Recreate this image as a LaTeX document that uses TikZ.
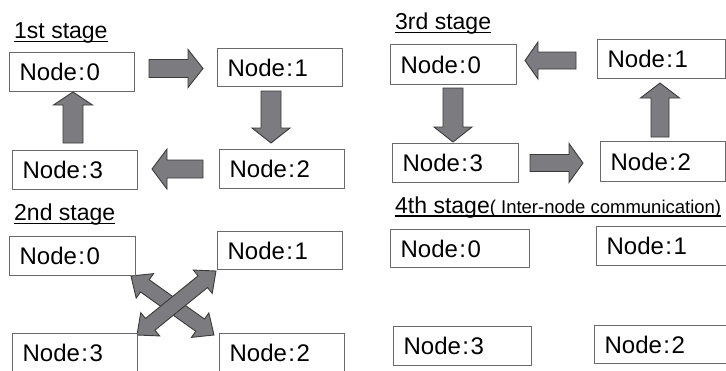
\documentclass[tikz,border=0pt]{standalone}
\usepackage{fontspec}
\setmainfont{Liberation Sans}
\usetikzlibrary{calc}
\definecolor{boxline}{HTML}{6A6A6A}
\definecolor{arrfill}{HTML}{7C7C80}
\definecolor{arrline}{HTML}{3A3A3A}
\tikzset{
  nbox/.style={draw=boxline, line width=1.2pt, fill=white, anchor=north west,
    inner xsep=10pt, inner ysep=0pt, minimum height=39pt, align=left,
    text height=17pt, text depth=0pt, font=\fontsize{24}{26}\selectfont},
  stitle/.style={anchor=base west, inner sep=0pt, font=\fontsize{23}{25}\selectfont},
  uline/.style={line width=1.4pt, black},
  fatarrow/.style={fill=arrfill, draw=arrline, line width=0.9pt, line join=miter}
}
\newcommand\nodetxt[1]{Node\kern1.5pt:\kern1.5pt#1}
\newcommand\fatarr[5]{%
  \coordinate (hb) at ($(#2)!#5pt!(#1)$);
  \draw[fatarrow] ($(#1)!#3pt!90:(#2)$) -- ($(hb)!#3pt!90:(#2)$) -- ($(hb)!#4pt!90:(#2)$) -- (#2)
    -- ($(hb)!#4pt!-90:(#2)$) -- ($(hb)!#3pt!-90:(#2)$) -- ($(#1)!#3pt!-90:(#2)$) -- cycle;}
\newcommand\fatdbl[5]{%
  \coordinate (hba) at ($(#1)!#5pt!(#2)$);
  \coordinate (hbb) at ($(#2)!#5pt!(#1)$);
  \draw[fatarrow] (#1) -- ($(hba)!#4pt!90:(#2)$) -- ($(hba)!#3pt!90:(#2)$) -- ($(hbb)!#3pt!-90:(#1)$)
    -- ($(hbb)!#4pt!-90:(#1)$) -- (#2) -- ($(hbb)!#4pt!90:(#1)$) -- ($(hbb)!#3pt!90:(#1)$)
    -- ($(hba)!#3pt!-90:(#2)$) -- ($(hba)!#4pt!-90:(#2)$) -- cycle;}
\begin{document}
\begin{tikzpicture}[x=1pt, y=-1pt]
\useasboundingbox (0,0) rectangle (726,370);
\clip (0,0) rectangle (726,370);
\fill[white] (0,0) rectangle (726,370);

% ---------- 1st stage ----------
\node[stitle] (t1) at (14,38) {1st stage};
\draw[uline] ([yshift=-3.2pt]t1.base west) -- ([yshift=-3.2pt]t1.base east);
\node[nbox, text width=105pt] (s1n0) at (9,52) {\nodetxt{0}};
\node[nbox, text width=105pt, minimum height=38pt] (s1n1) at (217,48) {\nodetxt{1}};
\node[nbox, text width=105pt] (s1n2) at (219,149) {\nodetxt{2}};
\node[nbox, text width=105pt] (s1n3) at (12,150) {\nodetxt{3}};
\coordinate (a01s) at (149,68.5); \coordinate (a01e) at (203,68.5);
\coordinate (a12s) at (271,91);   \coordinate (a12e) at (271,143);
\coordinate (a23s) at (203,169);  \coordinate (a23e) at (152,169);
\coordinate (a30s) at (73,143);   \coordinate (a30e) at (73,92);
\fatarr{a01s}{a01e}{9}{19}{15}
\fatarr{a12s}{a12e}{10}{19}{15}
\fatarr{a23s}{a23e}{9}{20}{15}
\fatarr{a30s}{a30e}{10}{19.5}{13}

% ---------- 3rd stage ----------
\node[stitle] (t3) at (395,29) {3rd stage};
\draw[uline] ([yshift=-3.2pt]t3.base west) -- ([yshift=-3.2pt]t3.base east);
\node[nbox, text width=106pt, minimum height=40pt] (s3n0) at (390,44) {\nodetxt{0}};
\node[nbox, text width=108pt] (s3n1) at (597,39) {\nodetxt{1}};
\node[nbox, text width=106pt] (s3n3) at (392,143) {\nodetxt{3}};
\node[nbox, text width=105pt, minimum height=40pt] (s3n2) at (600,141) {\nodetxt{2}};
\coordinate (b10s) at (576,60.5); \coordinate (b10e) at (525,60.5);
\coordinate (b03s) at (453,88);   \coordinate (b03e) at (453,142);
\coordinate (b32s) at (530,163);  \coordinate (b32e) at (583,163);
\coordinate (b21s) at (660,137);  \coordinate (b21e) at (660,83);
\fatarr{b10s}{b10e}{8.5}{18.5}{13}
\fatarr{b03s}{b03e}{10}{19}{15}
\fatarr{b32s}{b32e}{8.5}{19.5}{14}
\fatarr{b21s}{b21e}{9}{19.5}{15}

% ---------- 2nd stage ----------
\node[stitle] (t2) at (14,220) {2nd stage};
\draw[uline] ([yshift=-3.2pt]t2.base west) -- ([yshift=-3.2pt]t2.base east);
\coordinate (c0) at (131,276); \coordinate (c2) at (214,335);
\coordinate (c3) at (137,335); \coordinate (c1) at (216,271);
\fatdbl{c0}{c2}{7.5}{15}{17}
\fatdbl{c3}{c1}{7.5}{15}{17}
\node[nbox, text width=106pt] (s2n0) at (9,236) {\nodetxt{0}};
\node[nbox, text width=105pt, minimum height=38pt] (s2n1) at (217,231) {\nodetxt{1}};
\node[nbox, text width=105pt] (s2n3) at (12,333) {\nodetxt{3}};
\node[nbox, text width=105pt] (s2n2) at (219,333) {\nodetxt{2}};

% ---------- 4th stage ----------
\node[stitle] (t4) at (395,213) {4th stage{\fontsize{18.5}{20}\selectfont( Inter-node communication)}};
\draw[uline] ([yshift=-3pt]t4.base west) -- ([yshift=-3pt]t4.base east);
\node[nbox, text width=119pt, minimum height=38pt] (s4n0) at (390,229) {\nodetxt{0}};
\node[nbox, text width=130pt] (s4n1) at (596,226) {\nodetxt{1}};
\node[nbox, text width=118pt] (s4n3) at (393,326) {\nodetxt{3}};
\node[nbox, text width=130pt, minimum height=38pt] (s4n2) at (594,325) {\nodetxt{2}};
\end{tikzpicture}
\end{document}
